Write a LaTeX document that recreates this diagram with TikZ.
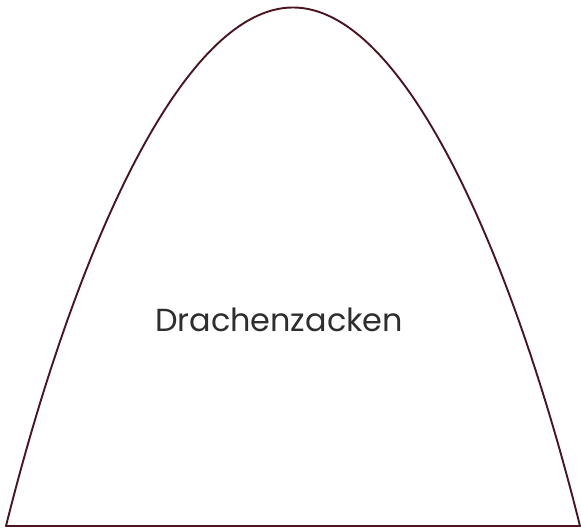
\documentclass[tikz,border=0pt]{standalone}
\usepackage{fontspec}
\setmainfont{Poppins}
\usetikzlibrary{positioning}

\definecolor{zackenrot}{HTML}{4A1520}
\definecolor{textgrau}{HTML}{2E2E2E}

\begin{document}
\begin{tikzpicture}[
  x=1bp, y=1bp,
  zacke/.style={draw=zackenrot, line width=1.9bp, line join=round},
  label/.style={font=\fontsize{32}{38}\selectfont, text=textgrau, inner sep=0pt}
]
  \useasboundingbox (0,0) rectangle (581,529);
  \coordinate (links) at (6,3);
  \coordinate (spitze) at (293,521.5);
  \coordinate (rechts) at (580,3);
  % linke und rechte Flanke
  \draw[zacke] (links) .. controls (76,283) and (184,521.5) .. (spitze)
    .. controls (402,521.5) and (510,283) .. (rechts) -- cycle;
  \node[label, anchor=base] (name) at (279,197.3) {Drachenzacken};
\end{tikzpicture}
\end{document}
